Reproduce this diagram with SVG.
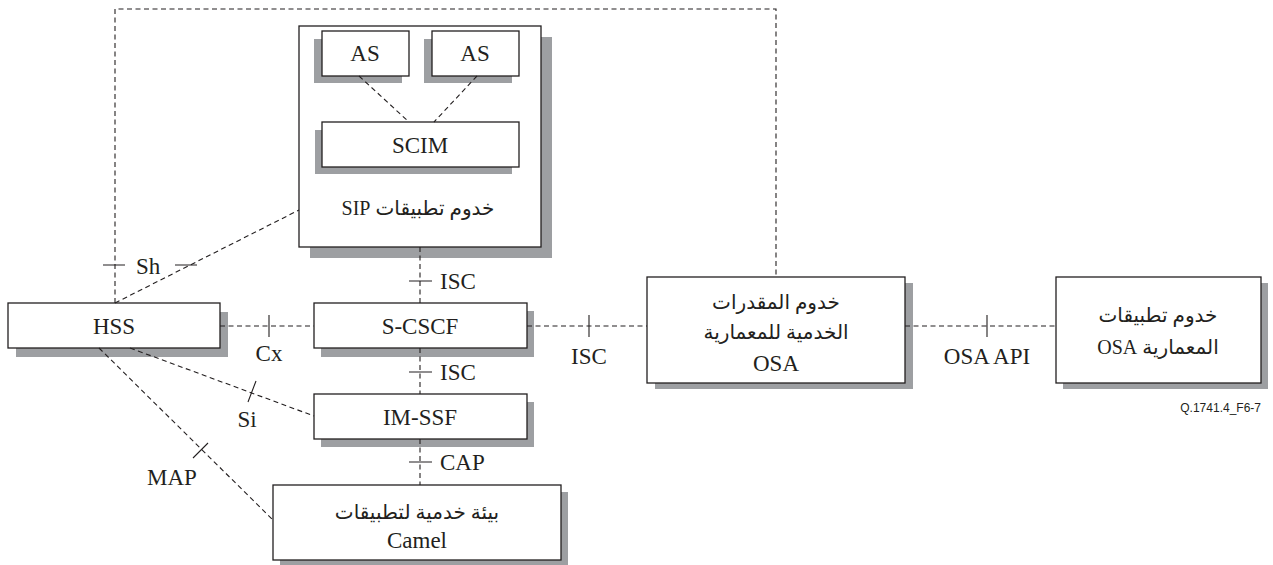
<svg xmlns="http://www.w3.org/2000/svg" width="1273" height="565" viewBox="0 0 1273 565">
<style>
.box{fill:#fff;stroke:#231f20;stroke-width:1.3}
.sh{fill:#9d9fa2}
.dl{fill:none;stroke:#231f20;stroke-width:1.1;stroke-dasharray:5,3.5}
.tk{fill:none;stroke:#231f20;stroke-width:1.1}
.t{font-family:"Liberation Serif","DejaVu Sans",serif;font-size:23px;fill:#231f20;text-anchor:middle}
.ar{font-family:"Liberation Serif","DejaVu Sans",serif;font-size:20px;fill:#231f20;text-anchor:middle;direction:rtl;unicode-bidi:embed}
.lb{font-family:"Liberation Serif",serif;font-size:23px;fill:#231f20}
.id{font-family:"Liberation Sans",Arial,sans-serif;font-size:12px;fill:#231f20;text-anchor:end}
</style>
<rect width="1273" height="565" fill="#fff"/>
<g id="sip">
<rect class="sh" x="310" y="37" width="242" height="221"/>
<rect class="box" x="299" y="26" width="242" height="221"/>
<text class="ar" x="418" y="215">خدوم تطبيقات SIP</text>
</g>
<g id="as1">
<rect class="sh" x="314" y="39" width="88" height="44"/>
<rect class="box" x="322" y="31" width="87" height="45"/>
<text class="t" x="365" y="61">AS</text>
</g>
<g id="as2">
<rect class="sh" x="424" y="39" width="88" height="44"/>
<rect class="box" x="432" y="31" width="87" height="45"/>
<text class="t" x="475" y="61">AS</text>
</g>
<g id="scim">
<rect class="sh" x="315" y="130" width="197" height="44"/>
<rect class="box" x="322" y="122" width="197" height="45"/>
<text class="t" x="420" y="153">SCIM</text>
</g>
<g id="hss">
<rect class="sh" x="16" y="312" width="212" height="45"/>
<rect class="box" x="8" y="303" width="212" height="45"/>
<text class="t" x="114" y="334">HSS</text>
</g>
<g id="scscf">
<rect class="sh" x="321" y="311" width="213" height="46"/>
<rect class="box" x="314" y="303" width="213" height="45"/>
<text class="t" x="420" y="334">S-CSCF</text>
</g>
<g id="imssf">
<rect class="sh" x="321" y="402" width="213" height="45"/>
<rect class="box" x="314" y="394" width="213" height="45"/>
<text class="t" x="420" y="425">IM-SSF</text>
</g>
<g id="camel">
<rect class="sh" x="280" y="492" width="288" height="75"/>
<rect class="box" x="273" y="485" width="288" height="75"/>
<text class="ar" x="417" y="519">بيئة خدمية لتطبيقات</text>
<text class="t" x="417" y="548">Camel</text>
</g>
<g id="osa-scf">
<rect class="sh" x="655" y="283" width="258" height="106"/>
<rect class="box" x="647" y="277" width="258" height="106"/>
<text class="ar" x="776" y="309">خدوم المقدرات</text>
<text class="ar" x="776" y="339">الخدمية للمعمارية</text>
<text class="t" x="776" y="371">OSA</text>
</g>
<g id="osa-as">
<rect class="sh" x="1063" y="283" width="205" height="106"/>
<rect class="box" x="1056" y="277" width="205" height="106"/>
<text class="ar" x="1158" y="322">خدوم تطبيقات</text>
<text class="ar" x="1158" y="354">المعمارية OSA</text>
</g>
<g id="connectors">
<path class="dl" d="M115,303 V9 H776 V277"/>
<path class="dl" d="M115,303 L299,210"/>
<path class="dl" d="M359,76 L409,122"/>
<path class="dl" d="M477,76 L434,122"/>
<path class="dl" d="M420,247 V303"/>
<path class="dl" d="M420,348 V394"/>
<path class="dl" d="M420,439 V485"/>
<path class="dl" d="M220,326 H314"/>
<path class="dl" d="M527,326 H647"/>
<path class="dl" d="M905,326 H1056"/>
<path class="dl" d="M130,348 L314,416"/>
<path class="dl" d="M99,348 L273,520"/>
<path class="tk" d="M103,265 H125 M175,265 H197 M409,281 H432 M409,372 H432 M409,462 H432 M269,315 V337 M589,315 V337 M987,315 V337 M256,381 L248,402 M193,458 L208,443"/>
<text class="lb" x="136" y="274">Sh</text>
<text class="lb" x="440" y="289">ISC</text>
<text class="lb" x="440" y="380">ISC</text>
<text class="lb" x="440" y="470">CAP</text>
<text class="t" x="269" y="361">Cx</text>
<text class="t" x="589" y="364">ISC</text>
<text class="t" x="987" y="364">OSA API</text>
<text class="t" x="247" y="427">Si</text>
<text class="t" x="172" y="485">MAP</text>
</g>
<text class="id" x="1261" y="412">Q.1741.4_F6-7</text>
</svg>
